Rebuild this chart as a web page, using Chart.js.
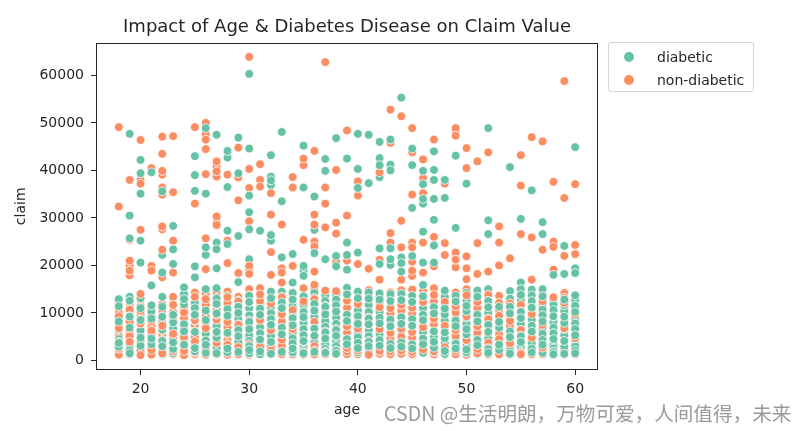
<!DOCTYPE html>
<html>
<head>
<meta charset="utf-8">
<script src="https://cdn.jsdelivr.net/npm/chart.js@4.4.1/dist/chart.umd.min.js"></script>
<style>
  html, body { margin: 0; padding: 0; background: #fff; }
  #wrap { position: relative; width: 810px; height: 431px; font-family: "DejaVu Sans", sans-serif; }
  #legend {
    position: absolute; left: 608px; top: 42px; width: 146px; height: 50px;
    border: 1px solid #d6d6d6; border-radius: 3px; box-sizing: border-box;
    font-size: 14px; color: #262626;
  }
  .item { position: absolute; left: 0; height: 20px; line-height: 20px; }
  .dot { position: absolute; left: 15px; top: 5px; width: 10px; height: 10px; border-radius: 50%; }
  .lab { position: absolute; left: 48px; white-space: nowrap; }
  #mark {
    position: absolute; left: 384px; top: 398px; white-space: nowrap;
    font-family: "Noto Sans CJK SC", sans-serif; font-size: 19.6px; color: #9a9a9a;
  }
</style>
</head>
<body>
<div id="wrap">
  <canvas id="chart" width="810" height="431"></canvas>
  <div id="legend">
    <div class="item" style="top:4px"><span class="dot" style="background:#66c2a5"></span><span class="lab">diabetic</span></div>
    <div class="item" style="top:27px"><span class="dot" style="background:#fc8d62"></span><span class="lab">non-diabetic</span></div>
  </div>
  <div id="mark">CSDN @生活明朗，万物可爱，人间值得，未来</div>
</div>
<script>
const ages = [18, 19, 20, 21, 22, 23, 24, 25, 26, 27, 28, 29, 30, 31, 32, 33, 34, 35, 36, 37, 38,
  39, 40, 41, 42, 43, 44, 45, 46, 47, 48, 49, 50, 51, 52, 53, 54, 55, 56, 57, 58, 59, 60];

// claims per age, diabetic
const diabeticClaims = [
  [12900, 8900, 8200, 4500, 2900, 1800, 11400, 6500, 3700, 1300],
  [47700, 30500, 25700, 13400, 12600, 7600, 6900, 4800, 2100, 11000, 9200, 3300, 1500],
  [42200, 39400, 35100, 25200, 20600, 13100, 8500, 6300, 3100, 1800, 11000, 9400, 4800, 2400],
  [39600, 15800, 8800, 6200, 3400, 2100, 11600, 10300, 4600, 1400],
  [35600, 22200, 18500, 13400, 9200, 6500, 4100, 2000, 11300, 7800, 3000, 1300],
  [28300, 23400, 20300, 11900, 8000, 5300, 2400, 13100, 9600, 6700, 3800, 1500],
  [15400, 14000, 11800, 10100, 7600, 5000, 3300, 1700, 12900, 8800, 6100, 2300],
  [43000, 39000, 35700, 19800, 17500, 13400, 11000, 8300, 6000, 3800, 1900, 12100, 9600, 4800, 2600],
  [48900, 35100, 23800, 22200, 15000, 12600, 10500, 7000, 4200, 2400, 1600, 11500, 8500, 5600, 3300],
  [47500, 24800, 23400, 19400, 15200, 13000, 9900, 7300, 4800, 2700, 11900, 8600, 6000, 3700, 1500],
  [44100, 42700, 36500, 27300, 24500, 13600, 10800, 8000, 5800, 3400, 1700, 12200, 9400, 6900, 2500],
  [46900, 39400, 26200, 16500, 11300, 8800, 6400, 3900, 1800, 12600, 10000, 7600, 5100, 2700],
  [60300, 44600, 34700, 31200, 27600, 21300, 13600, 11000, 8100, 5200, 3000, 1500, 12300, 9500, 6600, 4100, 2200],
  [27300, 13700, 10900, 8400, 5700, 3100, 1900, 12300, 9600, 7000, 4400, 1300],
  [43200, 38700, 37900, 36900, 26400, 25200, 14500, 11200, 8700, 6300, 3900, 2000, 13100, 9900, 7500, 5100, 1400],
  [48100, 33500, 21700, 14500, 12200, 9800, 6900, 4100, 1800, 13400, 11000, 8300, 5500, 2900],
  [22400, 16400, 14200, 11400, 8900, 5900, 3600, 1700, 12800, 10100, 7400, 4700, 2500],
  [45200, 36400, 19900, 18900, 17800, 13500, 10200, 7900, 5300, 2800, 1500, 11800, 9100, 6600, 4100, 2100],
  [34500, 27500, 22600, 14300, 11900, 9200, 6700, 3700, 1800, 13100, 10500, 8000, 5200, 2600],
  [42400, 39900, 21300, 13700, 11300, 8300, 5900, 3300, 1600, 12500, 9700, 7100, 4600, 2400],
  [46800, 22000, 19800, 14000, 11600, 9000, 6400, 4100, 2000, 12800, 10300, 7700, 5200, 3000, 1400],
  [42500, 24800, 22200, 19100, 15300, 12500, 9600, 7100, 4500, 2300, 13900, 11000, 8300, 5800, 3400],
  [47700, 40300, 36300, 22700, 14500, 11800, 9300, 6100, 3700, 1700, 13100, 10500, 7700, 4900, 2600],
  [47500, 37300, 14300, 11700, 8800, 6400, 3900, 2100, 13000, 10200, 7600, 5100, 3000, 1500],
  [46000, 42600, 41100, 38600, 23600, 20300, 14100, 11500, 9000, 6700, 4300, 2000, 12800, 10200, 7800, 5500, 3100],
  [46500, 41200, 40000, 23600, 21300, 20100, 13900, 11200, 8600, 5800, 3500, 1800, 12500, 9900, 7200, 4600, 2600],
  [55300, 21700, 20500, 18700, 14000, 11500, 9100, 6300, 3800, 2000, 12700, 10300, 7700, 5000, 2900, 1400],
  [44600, 41100, 32100, 22000, 13600, 11100, 8700, 6000, 3400, 1700, 12300, 9900, 7300, 4700, 2500],
  [39900, 37100, 34000, 33000, 27100, 20600, 15900, 12300, 9600, 7400, 4600, 2300, 13500, 11000, 8500, 6000, 3400, 1600],
  [44000, 40100, 38000, 34000, 29600, 24200, 20600, 13600, 11200, 8800, 6100, 5000, 2700, 12400, 9900, 7400, 3900, 1800],
  [38000, 34200, 14700, 12100, 9700, 7200, 4700, 2600, 1400, 13400, 10900, 8400, 5900, 3600, 2000],
  [43100, 27900, 13600, 11200, 8400, 6000, 3500, 1800, 12400, 9800, 7200, 4800, 2500, 1300],
  [37200, 12600, 10400, 7700, 5500, 3000, 1700, 14200, 11500, 9000, 6600, 4200, 2300],
  [14700, 12200, 9600, 6800, 4300, 2000, 13400, 10900, 8200, 5500, 3200, 1400],
  [48900, 29500, 26600, 15000, 12500, 10000, 7500, 4500, 2400, 13700, 11200, 8800, 6000, 3500, 1600],
  [11300, 9300, 6900, 4200, 2200, 10300, 8100, 5600, 3300, 1500],
  [40700, 14600, 11300, 8500, 6100, 3800, 1900, 13000, 9900, 7300, 4900, 2800, 1400],
  [29800, 16400, 15000, 12600, 10200, 7700, 5100, 2800, 13800, 11400, 8900, 6400, 3900, 1900],
  [35800, 14900, 12500, 9900, 7300, 4900, 2500, 13700, 11100, 8600, 6100, 3700, 1700],
  [29100, 26600, 15000, 12000, 9500, 6900, 4300, 2300, 13500, 10700, 8200, 5600, 3300, 1600],
  [18000, 12800, 10600, 8100, 5700, 3200, 1800, 11700, 9300, 6900, 4500, 2500, 1300],
  [24100, 18200, 12800, 10400, 7900, 5300, 2900, 11600, 9200, 6600, 4100, 2100, 1400],
  [44900, 19400, 18400, 12800, 11500, 9000, 6600, 4100, 2100, 13700, 10200, 7800, 5300, 3000, 1500]
];

// claims per age, non-diabetic
const nonDiabeticClaims = [
  [49100, 32400, 11800, 10900, 10000, 7700, 6800, 6300, 3900, 3400, 1900, 1400, 1200, 12400, 9300, 5200, 2500],
  [38000, 25400, 21000, 20000, 18900, 17900, 10700, 10000, 9300, 5500, 5100, 1700, 1300, 11800, 8200, 6300, 3900, 2300],
  [46400, 38000, 37200, 27500, 14000, 11500, 10400, 9700, 7800, 5000, 3500, 2700, 2000, 1500, 1100, 12800, 8700, 6500, 4200],
  [40500, 19900, 18900, 9500, 8300, 7200, 5600, 4700, 2800, 1700, 1200, 10500, 6300, 3600, 2200],
  [47100, 43500, 39900, 39100, 36400, 34900, 28200, 27600, 23300, 17500, 9600, 8400, 7300, 5400, 3200, 2600, 1500, 11800, 10600, 6300, 4300, 2000],
  [47200, 35400, 25200, 18500, 13400, 10200, 9100, 6900, 4500, 3600, 1900, 1300, 11700, 8000, 5600, 2600],
  [12700, 11200, 9000, 6700, 5800, 4100, 2600, 1500, 1100, 13600, 10100, 7700, 4900, 3400, 2000],
  [49100, 33000, 14300, 12300, 9700, 7400, 5000, 3000, 2300, 1300, 13400, 11100, 8500, 6100, 4000, 1700],
  [50000, 47600, 46500, 44500, 39200, 25700, 19200, 14100, 11600, 9300, 8000, 5500, 3300, 1200, 12900, 10500, 6800, 4300, 2300],
  [41900, 40800, 39800, 38700, 30300, 29000, 28500, 14300, 11800, 10700, 8600, 6100, 3700, 1900, 1300, 13100, 9600, 7300, 4800, 2600],
  [39100, 25200, 20500, 14500, 12100, 9400, 6900, 4400, 2600, 1200, 13300, 10700, 8100, 5600, 3300, 1700],
  [44800, 38500, 33700, 18400, 12400, 10200, 7500, 5000, 2800, 2100, 1300, 13400, 11300, 8800, 6200, 3800],
  [63900, 40300, 36300, 29300, 19900, 19100, 18200, 15000, 12300, 9600, 7000, 4300, 2300, 1200, 13700, 11000, 8400, 5600, 3400, 1700],
  [41300, 38000, 36600, 15200, 12500, 11600, 9900, 7200, 4600, 3600, 2400, 1300, 13900, 10800, 8500, 6000, 2900, 1800],
  [35200, 30700, 22800, 18000, 13200, 10300, 7500, 5500, 2900, 1400, 12000, 8800, 6400, 4200, 2100],
  [28600, 19400, 18500, 16400, 13300, 11000, 8200, 5600, 3200, 2400, 1300, 12100, 9700, 7000, 4400, 1800],
  [38600, 36400, 19900, 13000, 10600, 7700, 6600, 4400, 2600, 1300, 14200, 11700, 9000, 5500, 3400, 1800],
  [42500, 41100, 25400, 15200, 12400, 11300, 9100, 6500, 4000, 2200, 1200, 13300, 10200, 7800, 5300, 3100, 1700],
  [44100, 30700, 28600, 25000, 24000, 18700, 15900, 14900, 12900, 10400, 8100, 5200, 3000, 1300, 11700, 9200, 6600, 4000, 2100],
  [62800, 36400, 33000, 28000, 14700, 12700, 10100, 7400, 4700, 2500, 1300, 13800, 11500, 8700, 6100, 3600, 1800],
  [40100, 29000, 26700, 20800, 14600, 12300, 10600, 7800, 5100, 2800, 1400, 13500, 11400, 9100, 6600, 3900, 2100],
  [48400, 30500, 21000, 14000, 11100, 8500, 5900, 3500, 1900, 1300, 12600, 9800, 7200, 4600, 2600],
  [37700, 34700, 20300, 14100, 12800, 10700, 8000, 5500, 2900, 1300, 11900, 9400, 6700, 4200, 2100],
  [19300, 14800, 13100, 10300, 7600, 5200, 3100, 1500, 14000, 11600, 9000, 6400, 4100, 2300, 1200],
  [39600, 21200, 17000, 13500, 12300, 10100, 7800, 5400, 2700, 1400, 11200, 8900, 6600, 4100, 2000],
  [52800, 45800, 26800, 24800, 14300, 12600, 9900, 7100, 4600, 2600, 1300, 13500, 11000, 8400, 5800, 3500, 1900],
  [51400, 29400, 23800, 17000, 14800, 12900, 10500, 8000, 5000, 2900, 1400, 13900, 11700, 9200, 6700, 4000, 2100],
  [48900, 43800, 34900, 24800, 23800, 20800, 18900, 17800, 14900, 12400, 9800, 7200, 4800, 2400, 1300, 13600, 11100, 8500, 6000, 3600, 1800],
  [42300, 38400, 35200, 24800, 18500, 14700, 13600, 11000, 8300, 5700, 3300, 1500, 12300, 9600, 7000, 4400, 2300],
  [46500, 26000, 19800, 15200, 12400, 10100, 7600, 4400, 1900, 1300, 13800, 11300, 8800, 6200, 3100, 2500],
  [37200, 24700, 22200, 13500, 11000, 8500, 6100, 3600, 2000, 1200, 12300, 9800, 7300, 4800, 2800, 1600],
  [48900, 48200, 47300, 22700, 21200, 19600, 14300, 12700, 10100, 7700, 5200, 2900, 1300, 13500, 11400, 8900, 6400, 4000, 2000],
  [44700, 40500, 21900, 19400, 17100, 15000, 13700, 11700, 9300, 6700, 4300, 2300, 1200, 12600, 10500, 8000, 5500, 3300, 1700],
  [41900, 24700, 18200, 13500, 11100, 8600, 5800, 3300, 1500, 14000, 12300, 9800, 7200, 4500, 2400],
  [43800, 18700, 13800, 11300, 8700, 6200, 3700, 1700, 12500, 10000, 7400, 5000, 2600, 1300],
  [28200, 24800, 20000, 13600, 10700, 8200, 5500, 3400, 1500, 12100, 9400, 6800, 4500, 2400, 1300],
  [21500, 12900, 11000, 9500, 7300, 4700, 2600, 1300, 12000, 10200, 8300, 6000, 3600, 1900],
  [43200, 36800, 26600, 13900, 11700, 9000, 6400, 4000, 1600, 12800, 10300, 7700, 5200, 2800, 1300],
  [47000, 25900, 17000, 13700, 11200, 8500, 6100, 3500, 1700, 12400, 9800, 7300, 4800, 2500, 1300],
  [46100, 23300, 13800, 11300, 8700, 6300, 3700, 1800, 12500, 10000, 7500, 5000, 2700, 1300],
  [37600, 25000, 23900, 19100, 13300, 11800, 9200, 7000, 4500, 2400, 1300, 12500, 10400, 8100, 5700, 3400, 1800],
  [58800, 34200, 22000, 14200, 12100, 9500, 6800, 4000, 2000, 1300, 13200, 10800, 8200, 5400, 3100, 1700],
  [37100, 24300, 22400, 13600, 10900, 8400, 5900, 3500, 1600, 12200, 9700, 7100, 4700, 2400, 1300]
];

const xTicks = [20, 30, 40, 50, 60];
const yTicks = [0, 10000, 20000, 30000, 40000, 50000, 60000];

const green = '#66c2a5';
const orange = '#fc8d62';
const ink = '#262626';

// half of the points of a series (even or odd positions), so the two
// colours can be layered alternately like the original draw order
function toPoints(claims, parity) {
  return ages.flatMap((a, i) =>
    claims[i].filter((c, j) => j % 2 === parity).map(c => ({ x: a, y: c })));
}

function layer(label, claims, parity, color, order) {
  return {
    label: label,
    data: toPoints(claims, parity),
    backgroundColor: color,
    borderColor: '#ffffff',
    borderWidth: 0.8,
    pointRadius: 4.4,
    order: order
  };
}

const framePlugin = {
  id: 'frame',
  afterDatasetsDraw(chart) {
    const { ctx, chartArea: a } = chart;
    ctx.save();
    ctx.strokeStyle = ink;
    ctx.lineWidth = 1;
    ctx.strokeRect(Math.round(a.left) + 0.5, Math.round(a.top) + 0.5,
      Math.round(a.right - a.left) - 1, Math.round(a.bottom - a.top) - 1);
    ctx.restore();
  }
};

new Chart(document.getElementById('chart'), {
  type: 'scatter',
  data: {
    datasets: [
      layer('diabetic', diabeticClaims, 0, green, 1),
      layer('non-diabetic', nonDiabeticClaims, 0, orange, 2),
      layer('diabetic', diabeticClaims, 1, green, 3),
      layer('non-diabetic', nonDiabeticClaims, 1, orange, 4)
    ]
  },
  options: {
    responsive: false,
    animation: false,
    events: [],
    layout: { padding: { left: 0, right: 212, top: 0, bottom: 0 } },
    plugins: {
      legend: { display: false },
      tooltip: { enabled: false },
      title: {
        display: true,
        text: 'Impact of Age & Diabetes Disease on Claim Value',
        fullSize: false,
        color: ink,
        font: { family: 'DejaVu Sans', size: 18, weight: 'normal' },
        padding: { top: 17, bottom: 4 }
      }
    },
    scales: {
      x: {
        type: 'linear',
        min: 15.9,
        max: 62.1,
        afterBuildTicks: s => { s.ticks = xTicks.map(v => ({ value: v })); },
        afterFit: s => { s.height = 61; s.paddingLeft = 0; s.paddingRight = 0; },
        grid: { drawOnChartArea: false, drawTicks: true, tickLength: 5, tickColor: ink },
        border: { display: false },
        ticks: { color: ink, padding: 6, maxRotation: 0, font: { family: 'DejaVu Sans', size: 14 } },
        title: {
          display: true, text: 'age', color: ink,
          font: { family: 'DejaVu Sans', size: 14 },
          padding: { top: 0, bottom: 12 }
        }
      },
      y: {
        type: 'linear',
        min: -2010,
        max: 66900,
        afterBuildTicks: s => { s.ticks = yTicks.map(v => ({ value: v })); },
        afterFit: s => { s.width = 96; s.paddingTop = 0; s.paddingBottom = 0; },
        grid: { drawOnChartArea: false, drawTicks: true, tickLength: 5, tickColor: ink },
        border: { display: false },
        ticks: { color: ink, padding: 7, font: { family: 'DejaVu Sans', size: 14 }, callback: v => String(v) },
        title: {
          display: true, text: 'claim', color: ink,
          font: { family: 'DejaVu Sans', size: 14 },
          padding: { top: 13 }
        }
      }
    }
  },
  plugins: [framePlugin]
});
</script>
</body>
</html>
